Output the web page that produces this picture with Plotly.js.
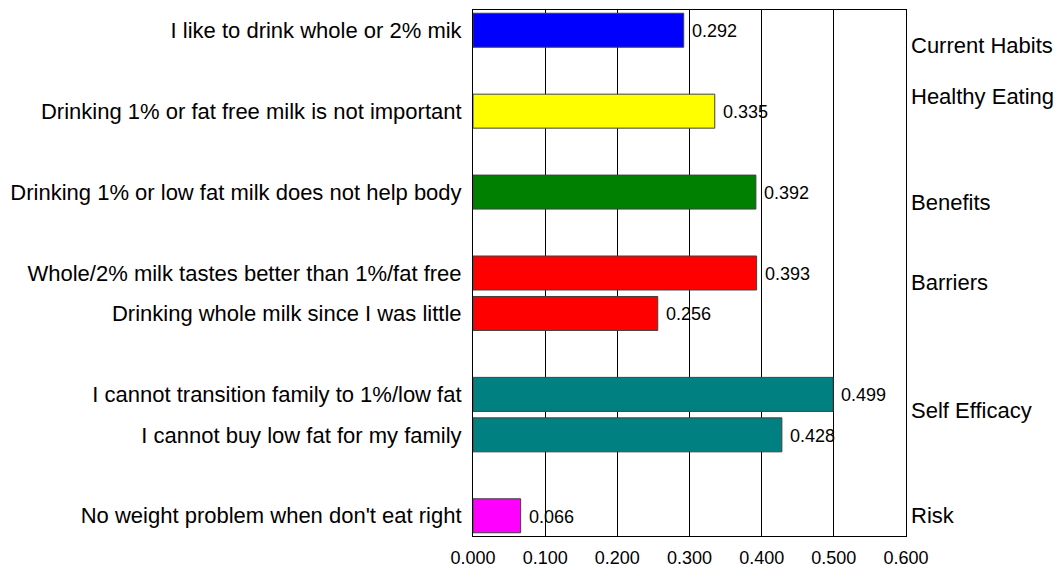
<!DOCTYPE html>
<html>
<head>
<meta charset="utf-8">
<script src="https://cdn.plot.ly/plotly-3.0.1.min.js"></script>
<style>
  html, body { margin: 0; padding: 0; background: #fff; }
  #chart { width: 1057px; height: 570px; }
</style>
</head>
<body>
<div id="chart"></div>
<script>
// Survey statements, their scores and the construct each belongs to
const labels = [
  "I like to drink whole or 2% mik",
  "Drinking 1% or fat free milk is not important",
  "Drinking 1% or low fat milk does not help body",
  "Whole/2% milk tastes better than 1%/fat free",
  "Drinking whole milk since I was little",
  "I cannot transition family to 1%/low fat",
  "I cannot buy low fat for my family",
  "No weight problem when don't eat right"
];
const values = [0.292, 0.335, 0.392, 0.393, 0.256, 0.499, 0.428, 0.066];
const groups = [
  "Current Habits", "Healthy Eating", "Benefits", "Barriers", "Barriers",
  "Self Efficacy", "Self Efficacy", "Risk"
];
const groupNames = ["Current Habits", "Healthy Eating", "Benefits", "Barriers", "Self Efficacy", "Risk"];
const groupColors = ["#0000FF", "#FFFF00", "#008000", "#FF0000", "#008080", "#FF00FF"];

// Row slots: consecutive within a construct, an empty row between constructs
const slots = [];
let s = -1;
groups.forEach((g, i) => {
  s += (i > 0 && g !== groups[i - 1]) ? 2 : 1;
  slots.push(s);
});
const lastSlot = slots[slots.length - 1];

const barColors = groups.map(g => groupColors[groupNames.indexOf(g)]);

// Vertical nudges (in rows) for the construct names on the right
const groupNudge = [0.37, -0.35, 0.25, -0.27, -0.1, 0.0];

const font = "Liberation Sans, Arial, sans-serif";

const trace = {
  type: "bar",
  orientation: "h",
  x: values,
  y: slots,
  width: 0.84,
  marker: { color: barColors, line: { color: "#404040", width: 1 } },
  hoverinfo: "x+text",
  text: labels,
  textposition: "none"
};

const annotations = [];
values.forEach((v, i) => {
  annotations.push({
    x: v, y: slots[i], xref: "x", yref: "y",
    text: v.toFixed(3), showarrow: false,
    xanchor: "left", yanchor: "middle", xshift: 6, yshift: -1,
    font: { family: font, size: 18, color: "#000" }
  });
});
groupNames.forEach((g, k) => {
  const rows = slots.filter((_, i) => groups[i] === g);
  const mid = rows.reduce((a, b) => a + b, 0) / rows.length;
  annotations.push({
    x: 1, xref: "paper", y: mid + groupNudge[k], yref: "y",
    text: g, showarrow: false,
    xanchor: "left", yanchor: "middle", xshift: 3,
    font: { family: font, size: 22, color: "#000" }
  });
});

const layout = {
  width: 1057, height: 570,
  margin: { l: 473, r: 151, t: 10, b: 34, pad: 0 },
  paper_bgcolor: "#fff", plot_bgcolor: "#fff",
  showlegend: false,
  font: { family: font, color: "#000" },
  xaxis: {
    range: [0, 0.6], dtick: 0.1, tick0: 0, tickformat: ".3f",
    showgrid: true, gridcolor: "#000", gridwidth: 1,
    zeroline: false, showline: true, linecolor: "#000", linewidth: 1, mirror: true,
    ticks: "", ticklabelstandoff: 5,
    tickfont: { family: font, size: 18, color: "#000" }
  },
  yaxis: {
    range: [lastSlot + 0.5, -0.5],
    tickmode: "array", tickvals: slots, ticktext: labels,
    showgrid: false, zeroline: false, showline: true, linecolor: "#000", linewidth: 1, mirror: true,
    ticks: "", ticklabelstandoff: 6,
    tickfont: { family: font, size: 22, color: "#000" }
  },
  annotations: annotations
};

Plotly.newPlot("chart", [trace], layout, { displayModeBar: false, staticPlot: true });
</script>
</body>
</html>
